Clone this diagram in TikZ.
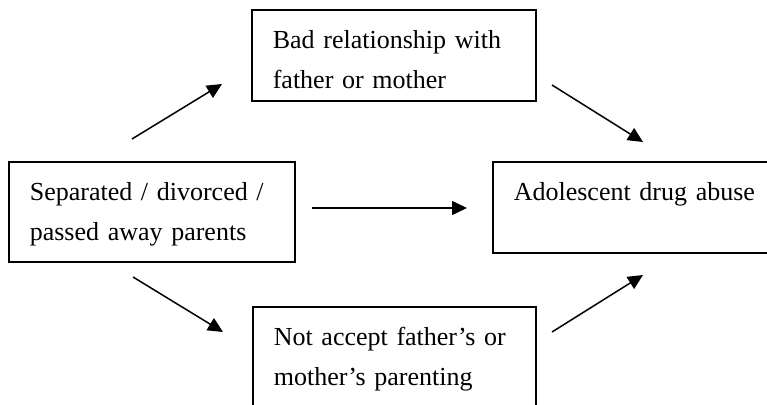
\documentclass[tikz,border=0pt]{standalone}
\usepackage{fontspec}
\setmainfont{Liberation Serif}[WordSpace=1.4]
\usepackage{tikz}
\usetikzlibrary{arrows.meta}

\begin{document}
\begin{tikzpicture}[x=0.5pt,y=-0.5pt,
  box/.style={draw,line width=0.8pt,anchor=north west,align=left,inner xsep=10.5pt,inner ysep=0pt,text height=19.5pt,font=\fontsize{13}{20}\selectfont},
  link/.style={line width=0.75pt,-{Triangle[length=7.5pt,width=7pt]}}]
\useasboundingbox (0,0) rectangle (767,405);
\clip (0,0) rectangle (767,405);
\node [box,text width=122pt,text depth=30.5pt] (parents) at (8,161) {Separated / divorced /\\passed away parents};
\node [box,text width=121pt,text depth=26pt] (bad) at (251,9) {Bad relationship with\\father or mother};
\node [box,text width=120.5pt,text depth=45pt] (accept) at (252,306) {Not accept father's or\\mother's parenting};
\node [box,text width=128pt,text depth=26pt] (abuse) at (492,161) {Adolescent drug abuse};
% arrow ends
\coordinate (pb) at (132,139);
\coordinate (bp) at (222,84);
\coordinate (ba) at (552,85);
\coordinate (ab) at (643,142);
\coordinate (pc) at (133,277);
\coordinate (cp) at (223,332);
\coordinate (ca) at (552,332);
\coordinate (ac) at (643,275);
\draw [link] (pb) -- (bp);
\draw [link] (ba) -- (ab);
\draw [link] (pc) -- (cp);
\draw [link] (ca) -- (ac);
\draw [link,shorten <=8pt,shorten >=12.5pt] (parents.east |- 0,208) -- (abuse.west |- 0,208);
\end{tikzpicture}
\end{document}
